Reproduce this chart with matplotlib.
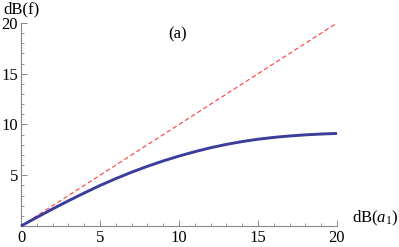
import matplotlib
matplotlib.use("Agg")
import matplotlib.pyplot as plt
from matplotlib.ticker import MultipleLocator

# data
x_vals = [0, 1, 2, 3, 4, 5, 6, 7, 8, 9, 10, 11, 12, 13, 14, 15, 16, 17, 18, 19, 20]
y_vals = [0, 0.85, 1.68, 2.48, 3.25, 3.99, 4.67, 5.30, 5.88, 6.41, 6.89,
          7.32, 7.71, 8.04, 8.32, 8.55, 8.73, 8.87, 8.98, 9.06, 9.12]
diag_x = [0, 20]
diag_y = [0, 20]
major_ticks = [0, 5, 10, 15, 20]

plt.rcParams['font.family'] = ['Liberation Serif', 'DejaVu Serif']
plt.rcParams['mathtext.fontset'] = 'custom'
plt.rcParams['mathtext.rm'] = 'Liberation Serif'
plt.rcParams['mathtext.it'] = 'Liberation Serif:italic'

fig = plt.figure(figsize=(3.99, 2.47), dpi=100)
ax = fig.add_axes([21/399, 21/247, 316/399, 203/247])

ax.plot(diag_x, diag_y, color='#ff3a3a', lw=0.8, dashes=(4, 2.5), clip_on=False, zorder=2)
ax.plot(x_vals, y_vals, color='#3c3c9c', lw=2.1, clip_on=False, zorder=3,
        solid_capstyle='butt', solid_joinstyle='round')

ax.set_xlim(0, 20)
ax.set_ylim(0, 20)
for s in ['top', 'right']:
    ax.spines[s].set_visible(False)
for s in ['left', 'bottom']:
    ax.spines[s].set_color('#888888')
    ax.spines[s].set_linewidth(0.8)

ax.set_xticks(major_ticks)
ax.set_yticks(major_ticks[1:])
ax.xaxis.set_minor_locator(MultipleLocator(1))
ax.yaxis.set_minor_locator(MultipleLocator(1))
ax.tick_params(which='major', direction='in', length=4, width=0.7, color='#888888', labelsize=12, pad=2)
ax.tick_params(which='minor', direction='in', length=2.2, width=0.6, color='#888888')
ax.tick_params(axis='x', pad=3)

fig.text(3/399, 1 - 9/247, 'dB(f)', fontsize=12, ha='left', va='center')
fig.text(352/399, 1 - 218/247, r'dB($a_1$)', fontsize=12, ha='left', va='center')
fig.text(178/399, 1 - 34/247, '(a)', fontsize=12, ha='center', va='center')

fig.savefig('out.png', dpi=100)
